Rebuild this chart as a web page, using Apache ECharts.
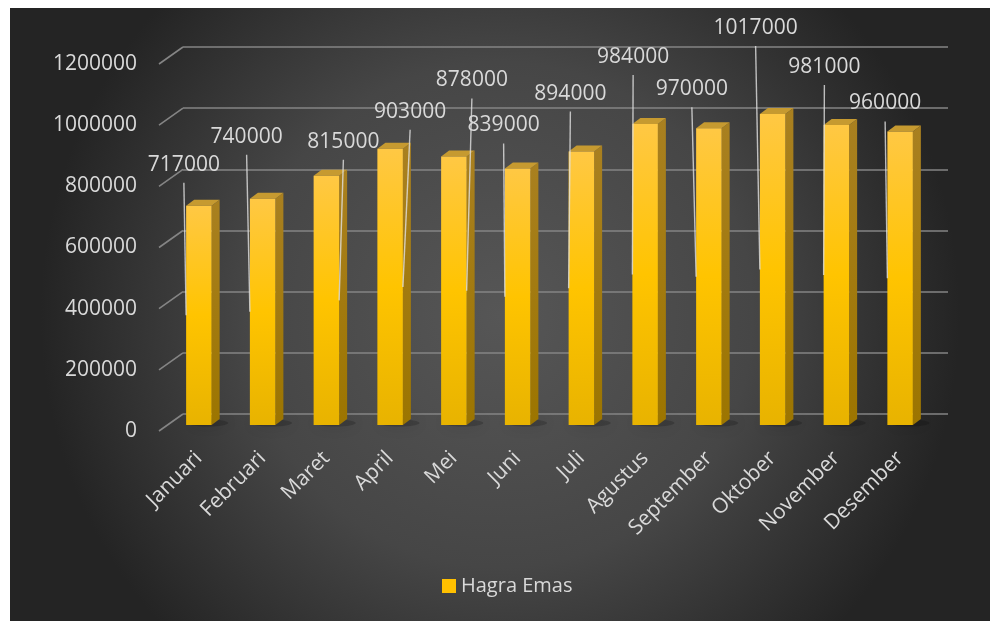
<!DOCTYPE html>
<html>
<head>
<meta charset="utf-8">
<script src="https://cdn.jsdelivr.net/npm/echarts@6/dist/echarts.min.js"></script>
<style>
html,body{margin:0;padding:0;background:#ffffff;}
#chart{width:990px;height:621px;}
</style>
</head>
<body>
<div id="chart"></div>
<script>
const categories = ['Januari','Februari','Maret','April','Mei','Juni','Juli','Agustus','September','Oktober','November','Desember'];
const values = [717000, 740000, 815000, 903000, 878000, 839000, 894000, 984000, 970000, 1017000, 981000, 960000];
const yTicks = [0, 200000, 400000, 600000, 800000, 1000000, 1200000];
const seriesName = 'Hagra Emas';
// label placement offsets (px) relative to bar top-centre, as placed in the original
const labelOffsets = [[-15,-41],[-16,-62],[17,-34],[20,-37],[18,-76],[-14,-43],[-11,-58],[-12,-67],[-17,-39],[-17,-86],[-12,-58],[-15,-28]];

const FONT = '"Open Sans", "Noto Sans", sans-serif';
const TXT = '#D9D9D9';
const GRIDC = '#858585';
const DEPTH = [8, -6];

const chart = echarts.init(document.getElementById('chart'));

const gridBase = {width: 765, height: 367};
function catAxis(i, show) {
  return {
    type: 'category', gridIndex: i, data: categories,
    axisLine: {show: false}, axisTick: {show: false},
    splitLine: {show: false},
    axisLabel: show ? {show: true, rotate: 45, color: TXT, fontSize: 21, fontFamily: FONT, margin: 30, interval: 0} : {show: false}
  };
}
function valAxis(i, labels, split) {
  return {
    type: 'value', gridIndex: i, min: 0, max: 1200000, interval: 200000,
    axisLine: {show: false}, axisTick: {show: false},
    axisLabel: labels ? {show: true, color: TXT, fontSize: 21, fontFamily: FONT, margin: 22, formatter: v => String(v)} : {show: false},
    splitLine: split ? {show: true, lineStyle: {color: GRIDC, width: 1.6}} : {show: false}
  };
}

const option = {
  animation: false,
  graphic: [{
    type: 'rect', z: -10, silent: true,
    shape: {x: 10, y: 8, width: 980, height: 613},
    style: {fill: new echarts.graphic.RadialGradient(0.5, 0.5, 0.75, [
      {offset: 0, color: '#565656'}, {offset: 0.55, color: '#464646'}, {offset: 1, color: '#242424'}])}
  }],
  grid: [
    Object.assign({left: 167, top: 58}, gridBase),   // bar plane
    Object.assign({left: 183, top: 47}, gridBase),   // back wall
    Object.assign({left: 159, top: 64}, gridBase)    // front plane (axis labels)
  ],
  xAxis: [catAxis(0, true), catAxis(1, false), catAxis(2, false)],
  yAxis: [valAxis(0, false, false), valAxis(1, false, true), valAxis(2, true, false)],
  legend: {
    data: [seriesName], left: 442, top: 576, padding: 0,
    icon: 'rect', itemWidth: 14, itemHeight: 14, itemGap: 10,
    textStyle: {color: TXT, fontSize: 20, fontFamily: FONT}
  },
  series: [
    {
      type: 'custom', name: 'sidewall', xAxisIndex: 0, yAxisIndex: 0, z: 1, silent: true,
      data: yTicks.map(v => [0, v]),
      renderItem: function (params, api) {
        const y = api.coord([0, api.value(1)])[1];
        const x0 = params.coordSys.x;
        return {type: 'line', shape: {x1: x0 - 8, y1: y + 6, x2: x0 + 16, y2: y - 11},
          style: {stroke: GRIDC, lineWidth: 1.6}};
      }
    },
    {
      type: 'custom', name: seriesName, xAxisIndex: 0, yAxisIndex: 0, z: 5,
      itemStyle: {color: '#FFC000'},
      data: values.map((v, i) => [i, v]),
      renderItem: function (params, api) {
        const idx = params.dataIndex;
        const p = api.coord([api.value(0), api.value(1)]);
        const b = api.coord([api.value(0), 0]);
        const bw = api.size([1, 0])[0] * 0.4;
        const l = p[0] - bw / 2, r = p[0] + bw / 2, t = p[1], bot = b[1];
        const dx = DEPTH[0], dy = DEPTH[1];
        const off = labelOffsets[idx];
        const lx = p[0] + off[0], ly = t + off[1];
        const ex = off[0] < 0 ? l : r;
        const ey = (t + bot) / 2;
        return {
          type: 'group',
          children: [
            {type: 'ellipse', shape: {cx: (l + r + dx) / 2 + 5, cy: bot - 2, rx: bw * 0.8, ry: 3.5},
              style: {fill: 'rgba(0,0,0,0.18)', shadowBlur: 14, shadowColor: 'rgba(0,0,0,0.75)'}},
            {type: 'polygon', shape: {points: [[r, t], [r + dx, t + dy], [r + dx, bot + dy], [r, bot]]},
              style: {fill: new echarts.graphic.LinearGradient(0, 0, 0, 1, [
                {offset: 0, color: '#A98020'}, {offset: 1, color: '#9C7500'}])}},
            {type: 'polygon', shape: {points: [[l, t], [r, t], [r + dx, t + dy], [l + dx, t + dy]]},
              style: {fill: '#C69A30'}},
            {type: 'rect', shape: {x: l, y: t, width: r - l, height: bot - t},
              style: {fill: new echarts.graphic.LinearGradient(0, 0, 0, 1, [
                {offset: 0, color: '#FFC844'}, {offset: 0.5, color: '#FFC400'}, {offset: 1, color: '#E8B300'}])}},
            {type: 'line', z2: 10, shape: {x1: lx, y1: ly + 18, x2: ex, y2: ey},
              style: {stroke: 'rgba(225,225,225,0.8)', lineWidth: 1.4}},
            {type: 'text', z2: 11, x: lx, y: ly,
              style: {text: String(api.value(1)), fill: TXT, font: '21px ' + FONT, align: 'center', verticalAlign: 'middle'}}
          ]
        };
      }
    }
  ]
};
chart.setOption(option);
</script>
</body>
</html>
